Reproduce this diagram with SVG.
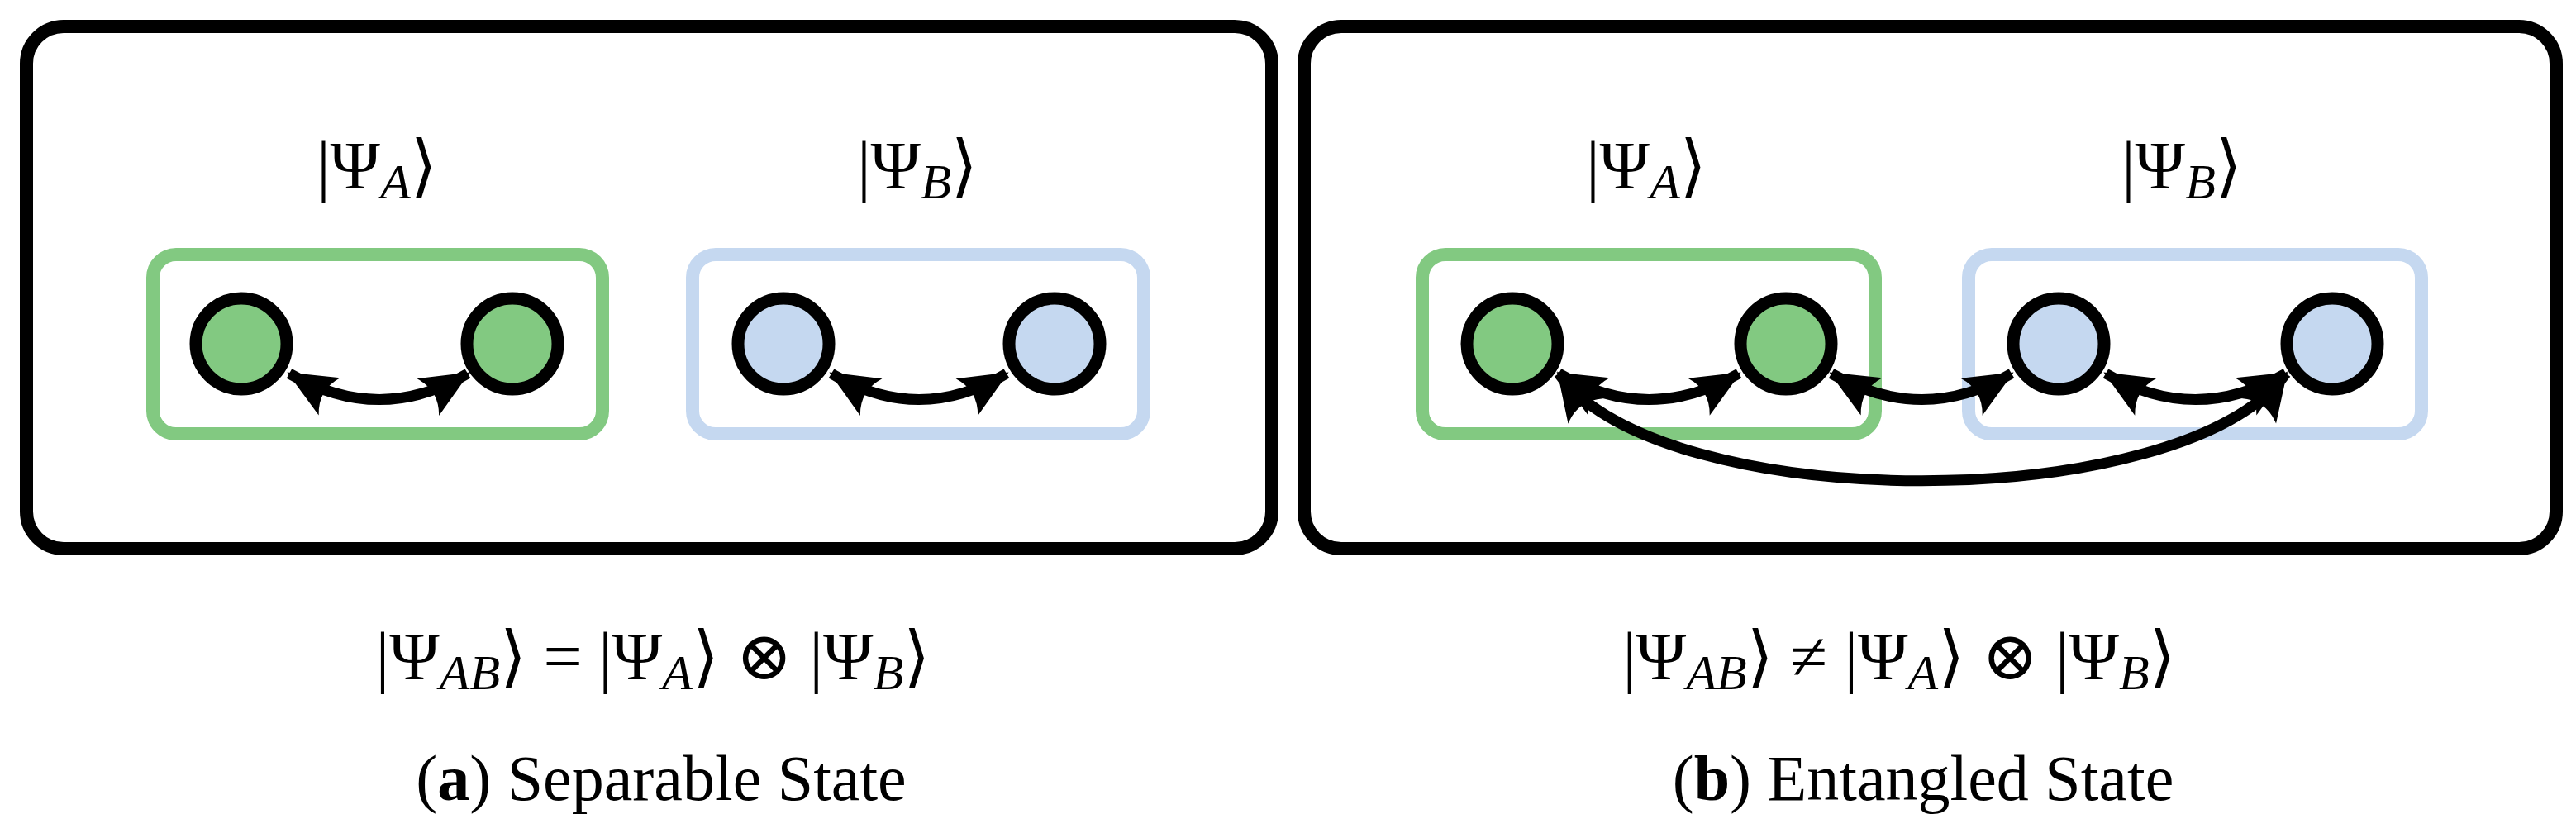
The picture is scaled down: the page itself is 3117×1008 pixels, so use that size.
<svg xmlns="http://www.w3.org/2000/svg" width="3117" height="1008" viewBox="0 0 3117 1008">
<style>
.frame{fill:#fff;stroke:#000;stroke-width:16}
.gbox{fill:none;stroke:#82C981;stroke-width:16}
.bbox{fill:none;stroke:#C5D8F0;stroke-width:16}
.gn{fill:#82C981;stroke:#000;stroke-width:15}
.bn{fill:#C5D8F0;stroke:#000;stroke-width:15}
.edge{fill:none;stroke:#000;stroke-width:13;marker-start:url(#st);marker-end:url(#st)}
text{font-family:"Liberation Serif","DejaVu Serif",serif;fill:#000}
.m{font-size:82px}
.cap{font-size:78px}
</style>
<defs>
<marker id="st" markerUnits="userSpaceOnUse" viewBox="-58 -28 62 56" markerWidth="62" markerHeight="56" refX="0" refY="0" orient="auto-start-reverse">
<path d="M3,0 L-56,-26 Q-40,0 -56,26 Z" fill="#000"/>
</marker>
</defs>
<g id="panel-a">
<rect class="frame" x="32" y="32" width="1507" height="632" rx="45"/>
</g>
<g id="panel-b">
<rect class="frame" x="1578" y="32" width="1515" height="632" rx="45"/>
</g>
<g id="group-A-a"><rect class="gbox" x="185" y="308" width="544" height="217" rx="28"/></g>
<g id="group-B-a"><rect class="bbox" x="838" y="308" width="546" height="217" rx="28"/></g>
<g id="group-A-b"><rect class="gbox" x="1721" y="308" width="548" height="217" rx="28"/></g>
<g id="group-B-b"><rect class="bbox" x="2382" y="308" width="548" height="217" rx="28"/></g>
<g id="connectors">
<path class="edge" d="M350,452 Q460,515 566,452"/>
<path class="edge" d="M1006,452 Q1112,515 1218,452"/>
<path class="edge" d="M1886,452 Q1996,515 2104,452"/>
<path class="edge" d="M2216,452 Q2326,515 2434,452"/>
<path class="edge" d="M2548,452 Q2656,515 2766,452"/>
<path class="edge" d="M1886,452 C2010,625 2640,625 2766,452"/>
</g>
<g id="a1"><circle class="gn" cx="292" cy="416" r="55"/></g>
<g id="a2"><circle class="gn" cx="620" cy="416" r="55"/></g>
<g id="a3"><circle class="bn" cx="948" cy="416" r="55"/></g>
<g id="a4"><circle class="bn" cx="1276" cy="416" r="55"/></g>
<g id="b1"><circle class="gn" cx="1830" cy="416" r="55"/></g>
<g id="b2"><circle class="gn" cx="2161" cy="416" r="55"/></g>
<g id="b3"><circle class="bn" cx="2491" cy="416" r="55"/></g>
<g id="b4"><circle class="bn" cx="2822" cy="416" r="55"/></g>
<g id="labels">
<text class="m" x="456" y="228" text-anchor="middle">|Ψ<tspan font-style="italic" font-size="60" dy="12">A</tspan><tspan dy="-12">⟩</tspan></text>
<text class="m" x="1110" y="228" text-anchor="middle">|Ψ<tspan font-style="italic" font-size="60" dy="12">B</tspan><tspan dy="-12">⟩</tspan></text>
<text class="m" x="1992" y="228" text-anchor="middle">|Ψ<tspan font-style="italic" font-size="60" dy="12">A</tspan><tspan dy="-12">⟩</tspan></text>
<text class="m" x="2640" y="228" text-anchor="middle">|Ψ<tspan font-style="italic" font-size="60" dy="12">B</tspan><tspan dy="-12">⟩</tspan></text>
<text class="m" x="790" y="822" text-anchor="middle">|Ψ<tspan font-style="italic" font-size="60" dy="12">AB</tspan><tspan dy="-12">⟩  =  |Ψ</tspan><tspan font-style="italic" font-size="60" dy="12">A</tspan><tspan dy="-12">⟩  ⊗  |Ψ</tspan><tspan font-style="italic" font-size="60" dy="12">B</tspan><tspan dy="-12">⟩</tspan></text>
<text class="m" x="2298" y="822" text-anchor="middle">|Ψ<tspan font-style="italic" font-size="60" dy="12">AB</tspan><tspan dy="-12">⟩  ≠  |Ψ</tspan><tspan font-style="italic" font-size="60" dy="12">A</tspan><tspan dy="-12">⟩  ⊗  |Ψ</tspan><tspan font-style="italic" font-size="60" dy="12">B</tspan><tspan dy="-12">⟩</tspan></text>
<text class="cap" x="800" y="968" text-anchor="middle">(<tspan font-weight="bold">a</tspan>) Separable State</text>
<text class="cap" x="2327" y="968" text-anchor="middle">(<tspan font-weight="bold">b</tspan>) Entangled State</text>
</g>
</svg>
